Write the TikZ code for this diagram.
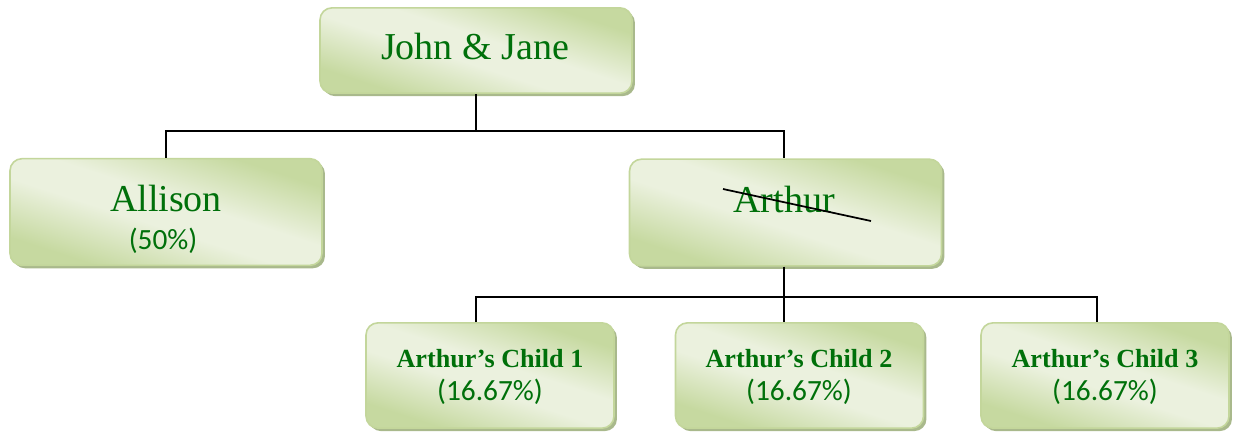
\documentclass[tikz,border=0pt]{standalone}
\usepackage{fontspec}
\setmainfont{Liberation Serif}
\newfontfamily\pctfont{Carlito}
\usetikzlibrary{shadows}
\definecolor{boxlight}{HTML}{EBF1DE}
\definecolor{boxdark}{HTML}{C6D9A0}
\definecolor{boxborder}{HTML}{C3D69B}
\definecolor{boxshadow}{HTML}{A9B98C}
\definecolor{txtgreen}{HTML}{00700A}
\pgfdeclarehorizontalshading{boxshade}{100bp}{color(0bp)=(boxdark); color(27bp)=(boxdark); color(45bp)=(boxlight); color(55bp)=(boxlight); color(73bp)=(boxdark); color(100bp)=(boxdark)}
\tikzset{
  box/.style={rectangle, rounded corners=9pt, draw=boxborder, line width=1.2pt,
    shading=boxshade, shading angle=72,
    drop shadow={shadow xshift=2.2pt, shadow yshift=-2.2pt, fill=boxshadow, opacity=1},
    inner sep=0pt},
  bigbox/.style={box, minimum width=234pt, minimum height=80pt},
  childbox/.style={box, minimum width=186pt, minimum height=79pt},
  bigname/.style={font=\fontsize{28.5}{31}\selectfont, text=txtgreen, inner sep=0pt},
  childname/.style={font=\fontsize{19.6}{22}\selectfont\bfseries, text=txtgreen, inner sep=0pt},
  pct/.style={font=\pctfont\fontsize{22}{24}\selectfont, text=txtgreen, inner sep=0pt},
  conn/.style={draw=black, line width=1.1pt},
}
\begin{document}
\begin{tikzpicture}[x=0.75pt, y=-0.75pt]
\useasboundingbox (0,0) rectangle (1233,433);
% boxes
\node[box, minimum width=234pt, minimum height=64pt] (jj) at (476,50.5) {};
\node[bigbox] (allison) at (166,212) {};
\node[bigbox] (arthur) at (785.5,212.5) {};
\node[childbox] (c1) at (490,375.5) {};
\node[childbox] (c2) at (799.5,375.5) {};
\node[childbox] (c3) at (1105,375.5) {};
% texts
\node[bigname] (jjt) at (475,46) {John \& Jane};
\node[bigname] (allt) at (166,198) {Allison};
\node[pct] (allp) at (163,241) {(50\%)};
\node[bigname] (artt) at (784,199) {Arthur};
\node[childname] (c1t) at (490,359) {Arthur’s Child 1};
\node[pct] (c1p) at (490,392) {(16.67\%)};
\node[childname] (c2t) at (799,359) {Arthur’s Child 2};
\node[pct] (c2p) at (799,392) {(16.67\%)};
\node[childname] (c3t) at (1105,359) {Arthur’s Child 3};
\node[pct] (c3p) at (1105,392) {(16.67\%)};
% strike-through
\coordinate (s1) at (723,189);
\coordinate (s2) at (871,221);
\draw[line width=1.3pt] (s1) -- (s2);
% connectors
\coordinate (b1) at (476,131);
\coordinate (b2) at (784,297);
\draw[conn] (jj.south) -- (b1);
\draw[conn] (allison.north -| 166,0) |- (b1) -| (arthur.north -| 784,0);
\draw[conn] (arthur.south -| 784,0) -- (b2);
\draw[conn] (c1.north -| 476,0) |- (b2) -| (c3.north -| 1097,0);
\draw[conn] (b2) -- (c2.north -| 784,0);
\end{tikzpicture}
\end{document}
